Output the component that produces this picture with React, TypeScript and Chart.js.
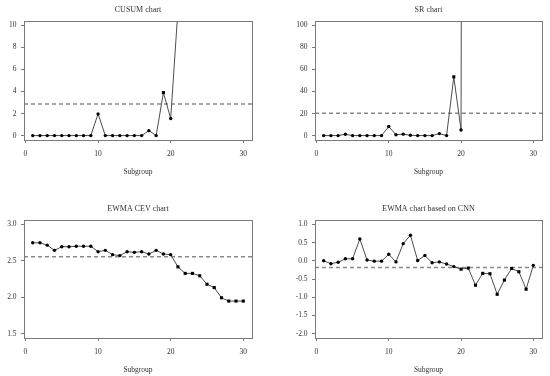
import React, { useEffect, useRef } from "react";
import { Chart, registerables } from "chart.js";
Chart.register(...registerables);

// ---------- data ----------
const subgroups = [1, 2, 3, 4, 5, 6, 7, 8, 9, 10, 11, 12, 13, 14, 15, 16, 17, 18, 19, 20, 21, 22, 23, 24, 25, 26, 27, 28, 29, 30];

const cusumValues = [0, 0, 0, 0, 0, 0, 0, 0, 0, 1.97, 0, 0, 0, 0, 0, 0, 0.45, 0, 3.9, 1.55, 11.4];
const cusumLimit = 2.86;
const cusumTicks = [0, 2, 4, 6, 8, 10];

const srValues = [0, 0, 0, 1.2, 0, 0, 0, 0, 0, 8.2, 0.8, 1.3, 0.3, 0, 0, 0, 1.8, 0, 53.3, 5.1, 3000];
const srLimit = 20.3;
const srTicks = [0, 20, 40, 60, 80, 100];

const cevValues = [2.747, 2.747, 2.715, 2.643, 2.693, 2.693, 2.7, 2.7, 2.7, 2.625, 2.643, 2.584, 2.571, 2.625, 2.616, 2.625, 2.593, 2.643, 2.593, 2.584, 2.417, 2.327, 2.327, 2.295, 2.178, 2.132, 1.992, 1.947, 1.947, 1.947];
const cevLimit = 2.557;
const cevTicks = [1.5, 2.0, 2.5, 3.0];

const cnnValues = [0.0, -0.08, -0.04, 0.055, 0.055, 0.6, 0.02, -0.01, -0.01, 0.18, -0.03, 0.47, 0.7, 0.01, 0.145, -0.055, -0.03, -0.09, -0.16, -0.23, -0.2, -0.67, -0.345, -0.355, -0.92, -0.53, -0.21, -0.3, -0.78, -0.125];
const cnnLimit = -0.185;
const cnnTicks = [-2.0, -1.5, -1.0, -0.5, 0.0, 0.5, 1.0];

const xTicks = [0, 10, 20, 30];
const X_MIN = -0.2;
const X_MAX = 31.2;

// ---------- style ----------
const FONT = "'Liberation Serif', 'DejaVu Serif', serif";
const TEXT = "#333333";
const AXIS = "#7a7a7a";
const LINE = "#4d4d4d";
const LIMIT = "#8a8a8a";

const boxPlugin = {
  id: "plotBox",
  afterDatasetsDraw(chart: any) {
    const { ctx, chartArea: a } = chart;
    ctx.save();
    ctx.strokeStyle = AXIS;
    ctx.lineWidth = 1;
    ctx.strokeRect(Math.round(a.left) + 0.5, Math.round(a.top) + 0.5, Math.round(a.right - a.left), Math.round(a.bottom - a.top));
    ctx.restore();
  },
};

type PanelProps = {
  title: string;
  values: number[];
  limit: number;
  side: "upper" | "lower";
  yMin: number;
  yMax: number;
  yTicks: number[];
  decimals: number;
  posX: number;
  posY: number;
  area: { left: number; right: number; top: number; bottom: number };
};

const W = 275;
const H = 188;

function Panel(p: PanelProps) {
  const ref = useRef<HTMLCanvasElement | null>(null);
  useEffect(() => {
    if (!ref.current) return;
    const { left, right, top, bottom } = p.area;
    const titleLH = 8 * 1.2;
    const titleCenter = top - 11;
    const tPadTop = titleCenter - titleLH / 2;
    const tPadBottom = top - tPadTop - titleLH;
    const xH = H - bottom;
    const axLH = 7.5 * 1.2;
    const xTitlePadBottom = xH - 32 - axLH / 2;
    const out = (v: number) => (p.side === "upper" ? v > p.limit : v < p.limit);
    const chart = new Chart(ref.current, {
      type: "line",
      data: {
        datasets: [
          {
            data: p.values.map((v, i) => ({ x: subgroups[i], y: v })),
            borderColor: LINE,
            borderWidth: 1,
            tension: 0,
            clip: 0,
            pointStyle: (ctx: any) => (out(ctx.parsed.y) ? "rect" : "circle"),
            pointRadius: (ctx: any) => (out(ctx.parsed.y) ? 2.2 : 1.7),
            pointBackgroundColor: "#000",
            pointBorderColor: "#000",
            pointBorderWidth: 0,
          } as any,
          {
            data: [
              { x: X_MIN, y: p.limit },
              { x: X_MAX, y: p.limit },
            ],
            borderColor: LIMIT,
            borderWidth: 1.5,
            borderDash: [4, 3],
            pointRadius: 0,
            clip: 0,
          } as any,
        ],
      },
      options: {
        animation: false,
        responsive: false,
        maintainAspectRatio: false,
        devicePixelRatio: 1,
        layout: { padding: { left: 0, right: W - right, top: 0, bottom: 0 } },
        plugins: {
          legend: { display: false },
          tooltip: { enabled: false },
          title: {
            display: true,
            text: p.title,
            fullSize: false,
            color: TEXT,
            font: { family: FONT, size: 8, weight: "normal" as any, lineHeight: 1.2 },
            padding: { top: tPadTop, bottom: tPadBottom },
          },
        },
        scales: {
          x: {
            type: "linear",
            min: X_MIN,
            max: X_MAX,
            afterBuildTicks: (s: any) => {
              s.ticks = xTicks.map((v) => ({ value: v }));
            },
            afterFit: (s: any) => {
              s.height = xH;
            },
            ticks: {
              autoSkip: false,
              maxRotation: 0,
              padding: 6.5,
              color: TEXT,
              font: { family: FONT, size: 7.5, lineHeight: 1.2 },
              callback: (v: any) => String(v),
            },
            grid: { drawOnChartArea: false, drawTicks: true, tickLength: 3, color: AXIS, lineWidth: 1 },
            border: { display: true, color: AXIS, width: 1 },
            title: {
              display: true,
              text: "Subgroup",
              color: TEXT,
              font: { family: FONT, size: 7.5, lineHeight: 1.2 },
              padding: { top: 0, bottom: xTitlePadBottom },
            },
          },
          y: {
            type: "linear",
            min: p.yMin,
            max: p.yMax,
            afterBuildTicks: (s: any) => {
              s.ticks = p.yTicks.map((v) => ({ value: v }));
            },
            afterFit: (s: any) => {
              s.width = left;
            },
            ticks: {
              autoSkip: false,
              padding: 4.5,
              color: TEXT,
              font: { family: FONT, size: 7.5, lineHeight: 1.2 },
              callback: (v: any) => Number(v).toFixed(p.decimals),
            },
            grid: { drawOnChartArea: false, drawTicks: true, tickLength: 3, color: AXIS, lineWidth: 1 },
            border: { display: true, color: AXIS, width: 1 },
          },
        },
      },
      plugins: [boxPlugin],
    } as any);
    return () => chart.destroy();
  }, []);
  return (
    <div style={{ position: "absolute", left: p.posX, top: p.posY, width: W, height: H }}>
      <canvas ref={ref} width={W} height={H} style={{ width: W, height: H, display: "block" }} />
    </div>
  );
}

export default function App() {
  return (
    <div style={{ position: "absolute", left: 0, top: 0, width: 550, height: 376, overflow: "hidden", background: "#fff" }}>
      <Panel title="CUSUM chart" values={cusumValues} limit={cusumLimit} side="upper" yMin={-0.4} yMax={10.4} yTicks={cusumTicks} decimals={0} posX={0} posY={0} area={{ left: 24, right: 252, top: 21, bottom: 140 }} />
      <Panel title="SR chart" values={srValues} limit={srLimit} side="upper" yMin={-4} yMax={104} yTicks={srTicks} decimals={0} posX={275} posY={0} area={{ left: 40, right: 267, top: 21, bottom: 140 }} />
      <Panel title="EWMA CEV chart" values={cevValues} limit={cevLimit} side="lower" yMin={1.44} yMax={3.06} yTicks={cevTicks} decimals={1} posX={0} posY={188} area={{ left: 24, right: 252, top: 32, bottom: 150 }} />
      <Panel title="EWMA chart based on CNN" values={cnnValues} limit={cnnLimit} side="lower" yMin={-2.12} yMax={1.12} yTicks={cnnTicks} decimals={1} posX={275} posY={188} area={{ left: 40, right: 267, top: 32, bottom: 150 }} />
    </div>
  );
}
